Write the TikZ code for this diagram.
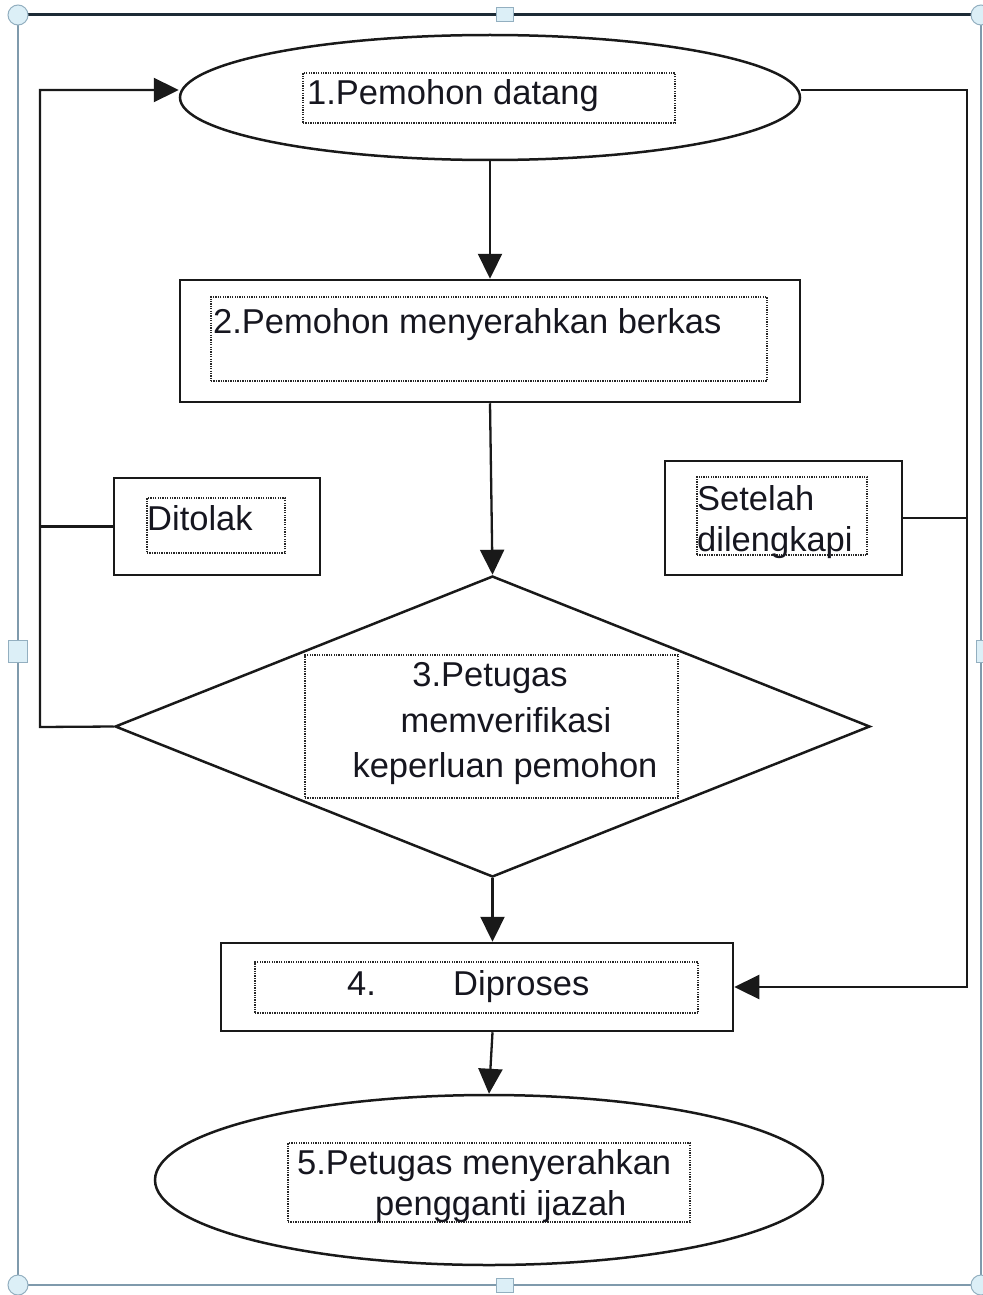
\documentclass[tikz,border=0pt]{standalone}
\usepackage{fontspec}
\setmainfont{Liberation Sans}
\usetikzlibrary{shapes.geometric,arrows.meta,calc}
\definecolor{txtc}{HTML}{16161F}
\definecolor{framedark}{HTML}{1C2A35}
\definecolor{framegrey}{HTML}{7F9AAC}
\definecolor{handlefill}{HTML}{DCEFF7}
\definecolor{handledraw}{HTML}{93AFC0}
\begin{document}
\begin{tikzpicture}[x=1pt,y=-1pt,
  blk/.style={draw=black!90, line width=2.5pt, inner sep=0pt},
  dotbox/.style={draw=black!85, line width=1.4pt, dash pattern=on 1.3pt off 1.1pt, inner sep=0pt},
  txt/.style={inner sep=0pt, text=txtc, font=\fontsize{34.5}{40}\selectfont},
  conn/.style={draw=black!90, line width=2.3pt},
  arr/.style={conn, -{Triangle[length=25pt,width=24pt]}},
  handlec/.style={circle, fill=handlefill, draw=handledraw, line width=1pt, minimum size=20pt, inner sep=0pt},
  handles/.style={rectangle, fill=handlefill, draw=handledraw, line width=1pt, inner sep=0pt}
]
\useasboundingbox (0,0) rectangle (982,1295);
% frame
\draw[framegrey, line width=2pt] (18,15) -- (18,1285) -- (981,1285) -- (981,15);
\draw[framedark, line width=3pt] (18,15) -- (981,15);
\node[handlec] (hc1) at (18,15) {};
\node[handlec] (hc2) at (981,15) {};
\node[handlec] (hc3) at (18,1285) {};
\node[handlec] (hc4) at (981,1285) {};
\node[handles, minimum width=17pt, minimum height=14pt] (hs1) at (505,15) {};
\node[handles, minimum width=17pt, minimum height=14pt] (hs2) at (505,1285) {};
\node[handles, minimum width=19pt, minimum height=22pt] (hs3) at (18,651) {};
\node[handles, minimum width=19pt, minimum height=22pt] (hs4) at (986,651) {};

% shapes
\node[blk, ellipse, minimum width=620pt, minimum height=125pt] (e1) at (490,97.5) {};
\node[blk, rectangle, minimum width=620pt, minimum height=122pt] (r2) at (490,341) {};
\node[blk, diamond, minimum width=755pt, minimum height=301pt] (d3) at (492.5,726.5) {};
\node[blk, rectangle, minimum width=512pt, minimum height=88pt] (r4) at (477,987) {};
\node[blk, ellipse, minimum width=668pt, minimum height=170pt] (e5) at (489,1180) {};
\node[blk, rectangle, minimum width=206pt, minimum height=97pt] (dt) at (217,526.5) {};
\node[blk, rectangle, minimum width=237pt, minimum height=114pt] (sd) at (783.5,518) {};

% dotted text boxes
\node[dotbox, minimum width=372pt, minimum height=50pt] (db1) at (489,98) {};
\node[dotbox, minimum width=556pt, minimum height=84pt] (db2) at (489,339) {};
\node[dotbox, minimum width=373pt, minimum height=143pt] (db3) at (491.5,726.5) {};
\node[dotbox, minimum width=443pt, minimum height=51pt] (db4) at (476.5,987.5) {};
\node[dotbox, minimum width=402pt, minimum height=79pt] (db5) at (489,1182.5) {};
\node[dotbox, minimum width=138pt, minimum height=55pt] (dbD) at (216,525.5) {};
\node[dotbox, minimum width=170pt, minimum height=78pt] (dbS) at (782,516) {};

% texts
\node[txt, anchor=base west] (t1) at (307,105) {1.Pemohon datang};
\node[txt, anchor=base west] (t2) at (213,333) {2.Pemohon menyerahkan berkas};
\node[txt, anchor=base] (t3a) at (490,686) {3.Petugas};
\node[txt, anchor=base] (t3b) at (506,732) {memverifikasi};
\node[txt, anchor=base] (t3c) at (505,777) {keperluan pemohon};
\node[txt, anchor=base west] (t4a) at (347,995) {4.};
\node[txt, anchor=base west] (t4b) at (453,995) {Diproses};
\node[txt, anchor=base west] (t5a) at (297,1174) {5.Petugas menyerahkan};
\node[txt, anchor=base west] (t5b) at (375,1215) {pengganti ijazah};
\node[txt, anchor=base west] (tD) at (147,530) {Ditolak};
\node[txt, anchor=base west] (tS1) at (697,510) {Setelah};
\node[txt, anchor=base west] (tS2) at (697,551) {dilengkapi};

% helper coordinates for the loops
\coordinate (T) at (490,90);
\coordinate (L) at (40,727);
\coordinate (R) at (967,987);

% main flow
\draw[arr] (e1.south) -- (r2.north);
\draw[arr] (r2.south) -- (d3.north);
\draw[arr] (d3.south) -- (d3.south |- r4.north);
\draw[arr] (d3.south |- r4.south) -- (e5.north);

% left loop (Ditolak)
\draw[arr] (d3.west) -- (L) |- (e1.west |- T);
\draw[conn] (dt.west) -- (dt.west -| L);

% right loop (Setelah dilengkapi)
\draw[arr] (e1.east |- T) -| (R) -- (r4.east);
\draw[conn] (sd.east) -- (sd.east -| R);
\end{tikzpicture}
\end{document}
